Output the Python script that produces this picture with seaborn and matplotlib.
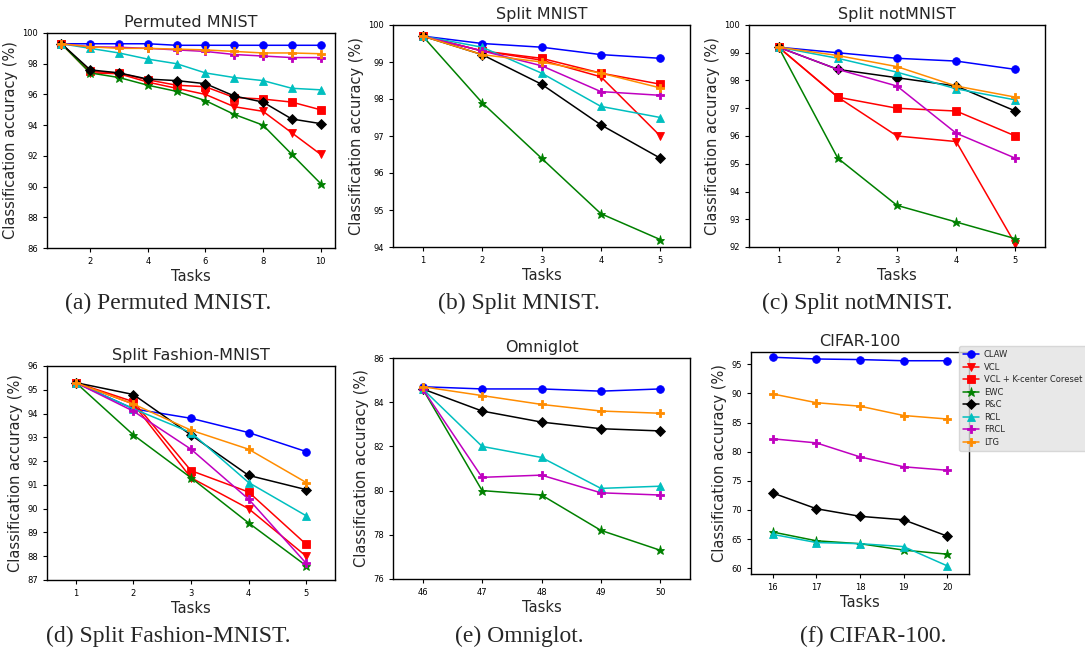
import matplotlib
matplotlib.use('Agg')
import matplotlib.pyplot as plt
import seaborn as sns

# task indices per benchmark
tasks_pm = list(range(1, 11))
tasks_5 = [1, 2, 3, 4, 5]
tasks_omni = [46, 47, 48, 49, 50]
tasks_cifar = [16, 17, 18, 19, 20]

# accuracies (%)
permuted = {
    'CLAW': [99.3, 99.3, 99.3, 99.3, 99.2, 99.2, 99.2, 99.2, 99.2, 99.2],
    'VCL': [99.3, 97.4, 97.35, 96.8, 96.4, 96.0, 95.2, 94.9, 93.5, 92.1],
    'VCL + K-center Coreset': [99.3, 97.5, 97.4, 96.95, 96.6, 96.5, 95.8, 95.7, 95.5, 95.0],
    'EWC': [99.3, 97.4, 97.1, 96.6, 96.2, 95.6, 94.7, 94.0, 92.1, 90.2],
    'P&C': [99.3, 97.6, 97.4, 97.0, 96.9, 96.7, 95.9, 95.5, 94.4, 94.1],
    'RCL': [99.3, 99.0, 98.7, 98.3, 98.0, 97.4, 97.1, 96.9, 96.4, 96.3],
    'FRCL': [99.3, 99.1, 99.07, 99.0, 98.9, 98.8, 98.6, 98.5, 98.4, 98.4],
    'LTG': [99.3, 99.1, 99.0, 99.0, 98.95, 98.9, 98.8, 98.7, 98.7, 98.65],
}
split_mnist = {
    'CLAW': [99.7, 99.5, 99.4, 99.2, 99.1],
    'VCL': [99.7, 99.3, 99.05, 98.6, 97.0],
    'VCL + K-center Coreset': [99.7, 99.3, 99.1, 98.7, 98.4],
    'EWC': [99.7, 97.9, 96.4, 94.9, 94.2],
    'P&C': [99.7, 99.2, 98.4, 97.3, 96.4],
    'RCL': [99.7, 99.4, 98.7, 97.8, 97.5],
    'FRCL': [99.7, 99.3, 98.9, 98.2, 98.1],
    'LTG': [99.7, 99.2, 99.0, 98.7, 98.3],
}
split_notmnist = {
    'CLAW': [99.2, 99.0, 98.8, 98.7, 98.4],
    'VCL': [99.2, 97.4, 96.0, 95.8, 92.1],
    'VCL + K-center Coreset': [99.2, 97.4, 97.0, 96.9, 96.0],
    'EWC': [99.2, 95.2, 93.5, 92.9, 92.3],
    'P&C': [99.2, 98.4, 98.1, 97.8, 96.9],
    'RCL': [99.2, 98.8, 98.3, 97.7, 97.3],
    'FRCL': [99.2, 98.4, 97.8, 96.1, 95.2],
    'LTG': [99.2, 98.9, 98.5, 97.8, 97.4],
}
fashion = {
    'CLAW': [95.3, 94.2, 93.8, 93.2, 92.4],
    'VCL': [95.3, 94.4, 91.3, 90.0, 88.0],
    'VCL + K-center Coreset': [95.3, 94.5, 91.6, 90.7, 88.5],
    'EWC': [95.3, 93.1, 91.3, 89.4, 87.6],
    'P&C': [95.3, 94.8, 93.1, 91.4, 90.8],
    'RCL': [95.3, 94.2, 93.2, 91.1, 89.7],
    'FRCL': [95.3, 94.1, 92.5, 90.4, 87.7],
    'LTG': [95.3, 94.4, 93.3, 92.5, 91.1],
}
omniglot = {
    'CLAW': [84.7, 84.6, 84.6, 84.5, 84.6],
    'EWC': [84.6, 80.0, 79.8, 78.2, 77.3],
    'P&C': [84.6, 83.6, 83.1, 82.8, 82.7],
    'RCL': [84.6, 82.0, 81.5, 80.1, 80.2],
    'FRCL': [84.6, 80.6, 80.7, 79.9, 79.8],
    'LTG': [84.7, 84.3, 83.9, 83.6, 83.5],
}
cifar = {
    'CLAW': [96.2, 95.9, 95.8, 95.6, 95.6],
    'EWC': [66.2, 64.7, 64.2, 63.1, 62.4],
    'P&C': [72.9, 70.2, 68.9, 68.3, 65.5],
    'RCL': [65.8, 64.4, 64.2, 63.7, 60.4],
    'FRCL': [82.2, 81.5, 79.1, 77.4, 76.8],
    'LTG': [89.9, 88.4, 87.8, 86.2, 85.6],
}

methods = ['CLAW', 'VCL', 'VCL + K-center Coreset', 'EWC', 'P&C', 'RCL', 'FRCL', 'LTG']
colors = {'CLAW': '#0000ff', 'VCL': '#ff0000', 'VCL + K-center Coreset': '#ff0000', 'EWC': '#008000',
          'P&C': '#000000', 'RCL': '#00bfbf', 'FRCL': '#bf00bf', 'LTG': '#ff8c00'}
markers = {'CLAW': 'o', 'VCL': 'v', 'VCL + K-center Coreset': 's', 'EWC': '*',
           'P&C': 'D', 'RCL': '^', 'FRCL': 'P', 'LTG': 'P'}

sns.set_theme(style='ticks')
plt.rcParams['font.family'] = ['DejaVu Sans']
plt.rcParams['axes.edgecolor'] = 'black'
plt.rcParams['xtick.color'] = 'black'
plt.rcParams['ytick.color'] = 'black'

W, H = 1085, 649
fig = plt.figure(figsize=(W / 100, H / 100), dpi=100)


def add_ax(l, t, r, b):
    return fig.add_axes([l / W, 1 - b / H, (r - l) / W, (b - t) / H])


panels = [
    # data, tasks, box (l, t, r, b), title, ylim, yticks, xticks
    (permuted, tasks_pm, (47, 33, 335, 248), 'Permuted MNIST', (86, 100), range(86, 101, 2), [2, 4, 6, 8, 10]),
    (split_mnist, tasks_5, (393, 25, 690, 247), 'Split MNIST', (94, 100), range(94, 101), tasks_5),
    (split_notmnist, tasks_5, (749, 25, 1045, 247), 'Split notMNIST', (92, 100), range(92, 101), tasks_5),
    (fashion, tasks_5, (47, 366, 335, 580), 'Split Fashion-MNIST', (87, 96), range(87, 97), tasks_5),
    (omniglot, tasks_omni, (393, 358, 690, 579), 'Omniglot', (76, 86), range(76, 87, 2), tasks_omni),
    (cifar, tasks_cifar, (751, 352, 969, 574), 'CIFAR-100', (59, 97.1), range(60, 96, 5), tasks_cifar),
]

for data, x, box, title, ylim, yticks, xticks in panels:
    ax = add_ax(*box)
    for m in methods:
        if m not in data:
            continue
        ms = 6.5 if markers[m] == '*' else 5.5
        sns.lineplot(x=x, y=data[m], ax=ax, color=colors[m], marker=markers[m],
                     markersize=ms, markeredgewidth=0.6, markeredgecolor=colors[m],
                     markerfacecolor=colors[m], linewidth=1.1, label=m, legend=False)
    ax.set_xlim(x[0] - 0.5, x[-1] + 0.5)
    ax.set_ylim(*ylim)
    ax.set_xticks(xticks)
    ax.set_yticks(list(yticks))
    ax.tick_params(labelsize=6, length=3, width=0.8)
    ax.set_title(title, fontsize=11.5, pad=4)
    ax.set_xlabel('Tasks', fontsize=10.5, labelpad=2)
    ax.set_ylabel('Classification accuracy (%)', fontsize=10.5, labelpad=3)
    for s in ax.spines.values():
        s.set_visible(True)
        s.set_linewidth(1.0)

# shared legend (taken from the split MNIST panel, which has all methods)
handles, labels = fig.axes[1].get_legend_handles_labels()
leg = fig.legend(handles, labels, loc='upper left', bbox_to_anchor=(959 / W, 1 - 346 / H),
                 fontsize=6, frameon=True, borderaxespad=0, labelspacing=0.42,
                 handlelength=1.9, handletextpad=0.6, borderpad=0.5)
leg.get_frame().set_facecolor('#e3e3e3')
leg.get_frame().set_edgecolor('#d0d0d0')

captions = [
    (168, 303, '(a) Permuted MNIST.'),
    (519, 303, '(b) Split MNIST.'),
    (857, 303, '(c) Split notMNIST.'),
    (168, 636, '(d) Split Fashion-MNIST.'),
    (519, 636, '(e) Omniglot.'),
    (873, 636, '(f) CIFAR-100.'),
]
for cx, cy, txt in captions:
    fig.text(cx / W, 1 - cy / H, txt, ha='center', va='center',
             fontsize=17, family='Liberation Serif')

fig.savefig('out.png', dpi=100)
